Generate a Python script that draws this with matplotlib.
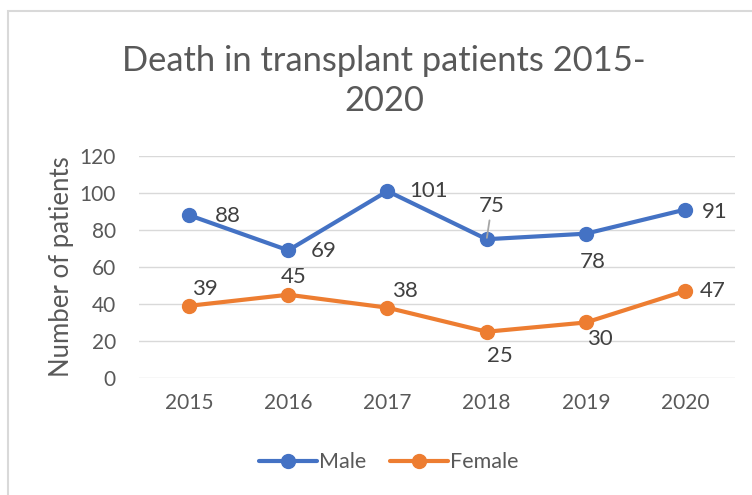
import numpy as np
import matplotlib.pyplot as plt
from matplotlib.patches import Rectangle

years = ["2015", "2016", "2017", "2018", "2019", "2020"]
male = [88, 69, 101, 75, 78, 91]
female = [39, 45, 38, 25, 30, 47]
yticks = [0, 20, 40, 60, 80, 100, 120]

# label offsets in pixels (dx, dy), as Excel placed them
male_off = [(39, -1), (35, -1), (41, 0), (5, 33), (7, -28), (30, -2)]
female_off = [(16, 17), (5, 18), (17, 17), (13, -24), (14, -17), (28, 0)]

BLUE = "#4472C4"
ORANGE = "#ED7D31"
GREY = "#595959"

plt.rcParams['font.family'] = ['Lato', 'DejaVu Sans']

fig = plt.figure(figsize=(7.52, 4.95), dpi=100)
fig.patches.append(Rectangle((8 / 752, -0.1), 1.2, 1 - 11 / 495 + 0.1,
                             transform=fig.transFigure, fill=False,
                             edgecolor="#D9D9D9", linewidth=1.5))
ax = fig.add_axes([0.1855, 0.2364, 0.7914, 0.4485])

x = np.arange(len(years))
ax.plot(x, male, color=BLUE, lw=3, marker="o", ms=10, label="Male", solid_capstyle="round")
ax.plot(x, female, color=ORANGE, lw=3, marker="o", ms=10, label="Female", solid_capstyle="round")

px = 0.72
for i in range(len(years)):
    dx, dy = male_off[i]
    arrow = None
    if i == 3:
        # leader line for the moved label
        arrow = dict(arrowstyle="-", color="#A6A6A6", lw=1.3, shrinkA=1, shrinkB=1)
    ax.annotate(str(male[i]), (x[i], male[i]), xytext=(dx * px, dy * px),
                textcoords="offset points", ha="center", va="center",
                fontsize=16, color="#404040", arrowprops=arrow)
    dx, dy = female_off[i]
    ax.annotate(str(female[i]), (x[i], female[i]), xytext=(dx * px, dy * px),
                textcoords="offset points", ha="center", va="center",
                fontsize=16, color="#404040")

ax.set_xlim(-0.5, len(years) - 0.5)
ax.set_ylim(0, 120)
ax.set_yticks(yticks)
ax.set_xticks(x)
ax.set_xticklabels(years)
ax.grid(axis="y", color="#D9D9D9", lw=1)
ax.set_axisbelow(True)
for s in ax.spines.values():
    s.set_visible(False)
ax.tick_params(length=0, labelsize=15, colors=GREY, pad=11)
ax.tick_params(axis="y", pad=17)
ax.set_ylabel("Number of patients", fontsize=18.5, color=GREY, labelpad=4)

fig.text(0.511, 0.836, "Death in transplant patients 2015-\n2020", ha="center", va="center",
         fontsize=24.8, color=GREY, linespacing=1.3)

fig.legend(loc="center", bbox_to_anchor=(0.517, 0.066), ncol=2, frameon=False,
           fontsize=15.5, labelcolor=GREY, handlelength=2.7, handletextpad=0.1,
           columnspacing=1.1)

fig.savefig("out.png", dpi=100)
